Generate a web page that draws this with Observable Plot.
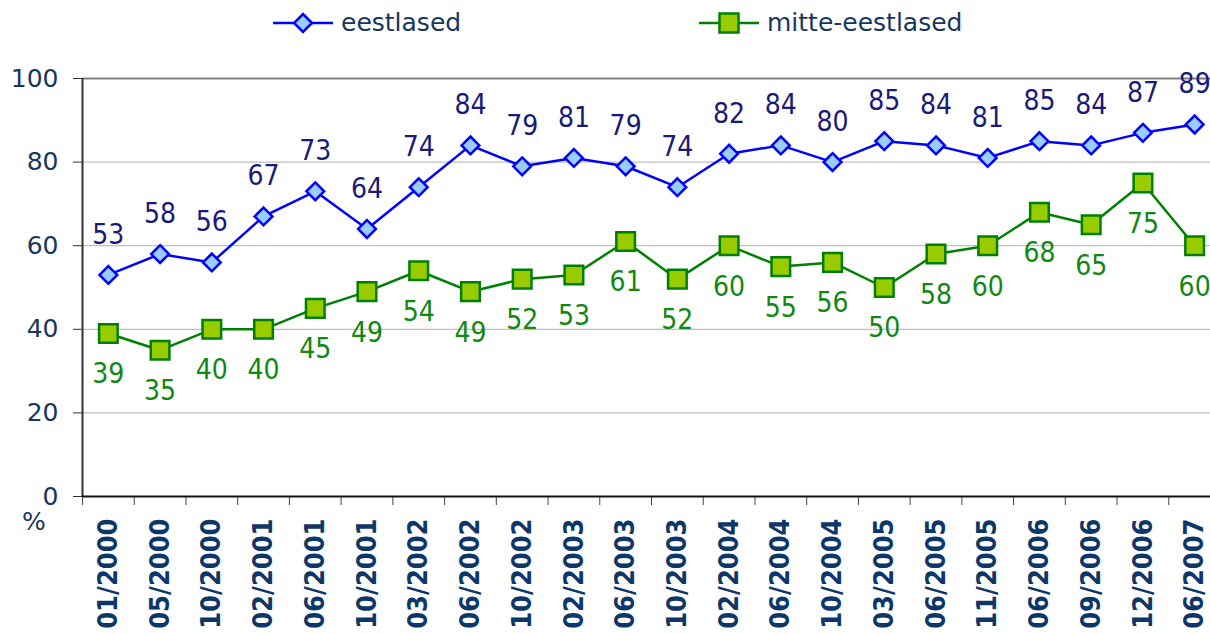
<!DOCTYPE html>
<html>
<head>
<meta charset="utf-8">
<script src="https://cdn.jsdelivr.net/npm/d3@7"></script>
<script src="https://cdn.jsdelivr.net/npm/@observablehq/plot@0.6"></script>
<style>
  html, body { margin: 0; padding: 0; background: #fff; overflow: hidden; }
  #wrap { position: relative; width: 1210px; height: 634px; overflow: hidden; }
  #legend { position: absolute; left: 0; top: 0; width: 1210px; height: 50px; z-index: 2;
            font-family: "DejaVu Sans", sans-serif; font-size: 25px; color: #17375e; }
  .item { position: absolute; top: 8px; height: 30px; display: flex; align-items: center; }
  .item svg { display: block; }
  .item span { margin-left: 8px; line-height: 30px; }
  #pct { position: absolute; left: 22px; top: 507px; font-family: "DejaVu Sans", sans-serif;
         font-size: 25px; color: #17375e; z-index: 2; }
  #chart { position: absolute; left: 0; top: 0; width: 1220px; height: 634px; }
  #chart svg { max-width: none !important; width: 1220px; height: 634px; }
</style>
</head>
<body>
<div id="wrap">
  <div id="legend"></div>
  <div id="pct">%</div>
  <div id="chart"></div>
</div>
<script>
const categories = ["01/2000","05/2000","10/2000","02/2001","06/2001","10/2001","03/2002","06/2002",
  "10/2002","02/2003","06/2003","10/2003","02/2004","06/2004","10/2004","03/2005","06/2005",
  "11/2005","06/2006","09/2006","12/2006","06/2007"];
const eestlased = [53,58,56,67,73,64,74,84,79,81,79,74,82,84,80,85,84,81,85,84,87,89];
const mitteEestlased = [39,35,40,40,45,49,54,49,52,53,61,52,60,55,56,50,58,60,68,65,75,60];
const seriesNames = ["eestlased","mitte-eestlased"];
const yTicks = [0,20,40,60,80,100];

const lineColors = ["#0000ff","#008000"];
const fillColors = ["#99ccff","#99cc00"];
const labelColors = ["#1a1a78","#118811"];

const blueRows = categories.map((c,i) => ({i, cat: c, series: seriesNames[0], value: eestlased[i]}));
const greenRows = categories.map((c,i) => ({i, cat: c, series: seriesNames[1], value: mitteEestlased[i]}));
const rows = blueRows.concat(greenRows);
const boundaries = d3.range(categories.length + 1).map(k => k - 0.5);
const centers = d3.range(categories.length);

const condensed = '"DejaVu Sans Condensed", "DejaVu Sans", sans-serif';

// Legend (HTML)
const legend = document.getElementById("legend");
const legendItems = [
  {name: seriesNames[0], left: 273, sym: `<polygon points="30,6 39,15 30,24 21,15" fill="${fillColors[0]}" stroke="${lineColors[0]}" stroke-width="2.5"/>`},
  {name: seriesNames[1], left: 699, sym: `<rect x="20.5" y="5.5" width="19" height="19" fill="${fillColors[1]}" stroke="${lineColors[1]}" stroke-width="2.5"/>`}
];
legendItems.forEach((it, k) => {
  const d = document.createElement("div");
  d.className = "item";
  d.style.left = it.left + "px";
  d.innerHTML = `<svg width="60" height="30"><line x1="0" y1="15" x2="60" y2="15" stroke="${lineColors[k]}" stroke-width="2.5"/>${it.sym}</svg><span>${it.name}</span>`;
  legend.appendChild(d);
});

const chart = Plot.plot({
  width: 1220,
  height: 634,
  marginLeft: 82,
  marginRight: 0,
  marginTop: 78,
  marginBottom: 138,
  style: {fontFamily: '"DejaVu Sans", sans-serif', background: "transparent", overflow: "visible", maxWidth: "none"},
  x: {type: "linear", domain: [-0.5, categories.length - 0.5]},
  y: {domain: [0, 100]},
  color: {domain: seriesNames, range: lineColors},
  marks: [
    Plot.gridY(yTicks.filter(v => v > 0 && v < 100), {stroke: "#bfbfbf", strokeOpacity: 1, strokeWidth: 1.3}),
    Plot.ruleY([100], {stroke: "#7f7f7f", strokeWidth: 2}),
    Plot.axisY({ticks: yTicks, tickSize: 9, tickPadding: 15, fontSize: 25, fill: "#17375e", stroke: "#333", label: null, tickFormat: d => String(d)}),
    Plot.ruleX([-0.5], {stroke: "#333", strokeWidth: 2}),
    Plot.axisX({ticks: boundaries, tickSize: 9, tickFormat: () => "", stroke: "#444", label: null}),
    Plot.axisX({ticks: centers, tickSize: 0, tickPadding: 22, tickRotate: -90, tickFormat: k => categories[k],
      fontSize: 27, fontWeight: "bold", fontFamily: condensed, fill: "#0d3768", label: null}),
    Plot.ruleY([0], {stroke: "#111", strokeWidth: 2}),
    Plot.line(rows, {x: "i", y: "value", z: "series", stroke: "series", strokeWidth: 2.5}),
    Plot.dot(blueRows, {x: "i", y: "value", symbol: "diamond2", r: 8, fill: fillColors[0], stroke: lineColors[0], strokeWidth: 2.5}),
    Plot.dot(greenRows, {x: "i", y: "value", symbol: "square", r: 10.5, fill: fillColors[1], stroke: lineColors[1], strokeWidth: 2.5}),
    Plot.text(blueRows, {x: "i", y: "value", text: d => String(d.value), dy: -40, fill: labelColors[0], fontSize: 28, fontFamily: condensed}),
    Plot.text(greenRows, {x: "i", y: "value", text: d => String(d.value), dy: 41, fill: labelColors[1], fontSize: 28, fontFamily: condensed})
  ]
});
document.getElementById("chart").appendChild(chart);
</script>
</body>
</html>
